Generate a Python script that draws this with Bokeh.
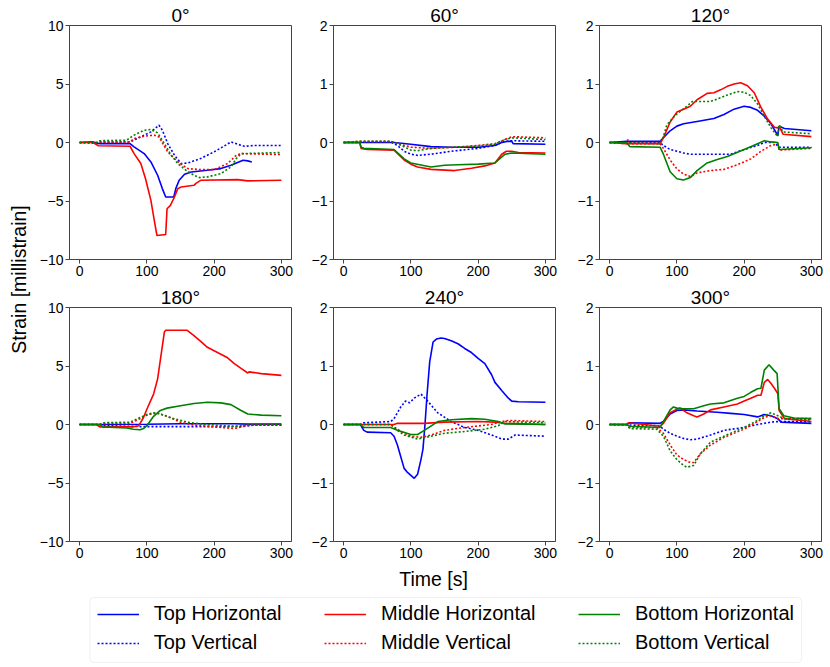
from bokeh.plotting import figure
from bokeh.layouts import row, column
from bokeh.models import (Range1d, FixedTicker, CustomJSTickFormatter, Label,
                          Legend, LegendItem, BoxAnnotation)
from bokeh.embed import file_html
from bokeh.resources import INLINE

FONT = "Liberation Sans"
NAN = float("nan")

# ---------------- series meta ----------------
SERIES_LABELS = ["Top Horizontal", "Top Vertical", "Middle Horizontal",
                 "Middle Vertical", "Bottom Horizontal", "Bottom Vertical"]
SERIES_COLORS = ["#0000ff", "#0000ff", "#ff0000", "#ff0000", "#008000", "#008000"]
SERIES_DASH = ["solid", "2 2", "solid", "2 2", "solid", "2 2"]

ANGLE_TITLES = ["0\u00b0", "60\u00b0", "120\u00b0", "180\u00b0", "240\u00b0", "300\u00b0"]
Y_LIMITS = [10, 2, 2, 10, 2, 2]
X_TICKS = [0, 100, 200, 300]
Y_TICKS_10 = [-10, -5, 0, 5, 10]
Y_TICKS_2 = [-2, -1, 0, 1, 2]

# ---------------- 0 deg ----------------
T0_TH = [0, 20, 30, 75, 81, 96, 106, 116, 123, 128, 140, 143, 148, 156, 166, 190, 210, 225, 243, 250, 256]
V0_TH = [0, 0.05, -0.1, -0.1, -0.37, -0.95, -1.66, -2.8, -3.94, -4.66, -4.66, -3.94, -3.23, -2.72, -2.52, -2.37, -2.23, -1.95, -1.52, -1.57, -1.66]
T0_TV = [0, 20, 30, 75, 91, 106, 118, 123, 131, 141, 151, 161, 180, 200, 213, 225, 235, 245, 260, 300]
V0_TV = [0, -0.05, 0.0, 0.05, 0.48, 0.91, 1.48, 1.05, -0.09, -1.09, -1.8, -1.75, -1.37, -0.8, -0.37, 0.05, -0.15, -0.32, -0.26, -0.26]
T0_MH = [0, 20, 28, 75, 81, 91, 98, 106, 111, 115, 128, 130, 135, 141, 146, 151, 170, 173, 180, 235, 250, 300]
V0_MH = [0, 0, -0.28, -0.32, -0.95, -1.8, -3.1, -4.95, -6.66, -7.95, -7.86, -5.66, -5.37, -4.66, -3.94, -3.8, -3.66, -3.5, -3.23, -3.17, -3.28, -3.23]
T0_MV = [0, 25, 30, 75, 81, 96, 111, 118, 125, 131, 141, 153, 161, 180, 200, 220, 233, 240, 300]
V0_MV = [0, 0, 0.05, 0.05, 0.34, 0.54, 0.63, 0.48, -0.23, -0.8, -1.37, -1.95, -2.23, -2.32, -2.32, -1.8, -1.09, -0.95, -1.03]
T0_BH = []
V0_BH = []
T0_BV = [0, 25, 30, 70, 81, 96, 106, 116, 126, 136, 146, 158, 170, 178, 190, 210, 225, 233, 240, 300]
V0_BV = [0, 0, 0.15, 0.2, 0.63, 1.05, 1.11, 0.82, -0.09, -1.09, -1.8, -2.37, -2.8, -3.0, -2.94, -2.66, -2.09, -1.37, -0.95, -0.86]

# ---------------- 60 deg ----------------
T60_TH = [0, 75, 100, 130, 160, 200, 225, 235, 245, 250, 252, 300]
V60_TH = [0, 0, -0.03, -0.07, -0.08, -0.08, -0.05, 0.0, 0.02, 0.02, -0.02, -0.03]
T60_TV = [0, 70, 80, 90, 100, 110, 130, 160, 200, 225, 240, 250, 300]
V60_TV = [0, 0.01, -0.05, -0.15, -0.2, -0.22, -0.2, -0.15, -0.1, -0.05, 0.02, 0.03, 0.02]
T60_MH = [0, 24, 26, 35, 75, 90, 100, 110, 130, 165, 190, 210, 225, 235, 242, 250, 260, 300]
V60_MH = [0, 0, -0.1, -0.12, -0.13, -0.3, -0.37, -0.42, -0.46, -0.48, -0.44, -0.4, -0.35, -0.2, -0.15, -0.15, -0.17, -0.18]
T60_MV = [0, 25, 70, 90, 100, 130, 170, 200, 225, 240, 250, 300]
V60_MV = [0, 0.02, 0.02, -0.05, -0.08, -0.1, -0.08, -0.05, -0.02, 0.05, 0.1, 0.08]
T60_BH = [0, 24, 26, 30, 75, 90, 100, 130, 150, 170, 200, 225, 240, 250, 300]
V60_BH = [0, 0, -0.08, -0.1, -0.12, -0.28, -0.35, -0.42, -0.39, -0.38, -0.37, -0.35, -0.2, -0.18, -0.2]
T60_BV = [0, 25, 70, 80, 100, 110, 130, 160, 200, 225, 240, 250, 300]
V60_BV = [0, 0.02, 0.02, -0.02, -0.13, -0.14, -0.1, -0.08, -0.06, -0.03, 0.05, 0.08, 0.05]

# ---------------- 120 deg ----------------
T120_TH = [0, 25, 75, 80, 90, 100, 110, 130, 155, 170, 185, 200, 210, 220, 230, 240, 250, 252, 260, 300]
V120_TH = [0, 0.02, 0.02, 0.08, 0.2, 0.28, 0.32, 0.36, 0.41, 0.48, 0.57, 0.62, 0.6, 0.55, 0.45, 0.32, 0.12, 0.28, 0.24, 0.2]
T120_TV = [0, 75, 80, 90, 100, 110, 120, 180, 200, 220, 230, 245, 252, 300]
V120_TV = [0, 0, -0.05, -0.12, -0.15, -0.18, -0.2, -0.2, -0.12, -0.05, 0.0, 0.0, -0.08, -0.08]
T120_MH = [0, 25, 75, 80, 90, 100, 110, 120, 130, 145, 155, 165, 175, 185, 195, 205, 215, 225, 235, 245, 250, 252, 258, 300]
V120_MH = [0, -0.02, -0.02, 0.08, 0.35, 0.52, 0.57, 0.62, 0.73, 0.84, 0.85, 0.9, 0.96, 1.0, 1.02, 0.97, 0.85, 0.6, 0.4, 0.26, 0.25, 0.28, 0.14, 0.1]
T120_MV = [0, 25, 27, 30, 75, 80, 90, 100, 110, 120, 130, 150, 170, 190, 210, 225, 240, 250, 252, 300]
V120_MV = [0, -0.02, 0.05, -0.02, -0.02, -0.1, -0.3, -0.45, -0.54, -0.58, -0.52, -0.48, -0.46, -0.38, -0.28, -0.15, -0.05, -0.03, -0.13, -0.1]
T120_BH = [0, 25, 30, 75, 80, 90, 100, 110, 120, 130, 145, 160, 175, 200, 220, 230, 240, 250, 252, 300]
V120_BH = [0, 0, -0.07, -0.08, -0.2, -0.5, -0.62, -0.64, -0.6, -0.48, -0.35, -0.29, -0.24, -0.12, -0.02, 0.03, 0.01, 0.0, -0.12, -0.09]
T120_BV = [0, 75, 80, 85, 98, 115, 123, 150, 175, 190, 200, 210, 220, 230, 240, 250, 252, 258, 300]
V120_BV = [0, -0.02, 0.1, 0.3, 0.47, 0.62, 0.7, 0.7, 0.81, 0.87, 0.86, 0.8, 0.66, 0.45, 0.25, 0.1, 0.3, 0.18, 0.15]

# ---------------- 180 deg ----------------
T180_TH = [0, 30, 100, 150, 230, 250, 300]
V180_TH = [0, 0, 0.02, 0.06, 0.06, 0.03, 0.03]
T180_TV = [0, 30, 40, 90, 240, 260, 300]
V180_TV = [0, 0, -0.1, -0.18, -0.18, -0.05, -0.05]
T180_MH = [0, 25, 30, 80, 88, 95, 100, 110, 116, 126, 128, 160, 170, 180, 190, 200, 210, 220, 230, 240, 250, 252, 270, 300]
V180_MH = [0, 0, -0.2, -0.2, -0.1, 0.6, 1.3, 2.6, 3.9, 7.9, 8.05, 8.05, 7.6, 7.1, 6.6, 6.3, 6.0, 5.7, 5.2, 4.8, 4.4, 4.5, 4.35, 4.2]
T180_MV = [0, 30, 40, 75, 90, 100, 115, 130, 150, 170, 200, 230, 240, 250, 300]
V180_MV = [0, 0, 0.1, 0.1, 0.5, 0.8, 1.0, 0.7, 0.2, -0.05, -0.2, -0.35, -0.2, -0.05, 0.0]
T180_BH = [0, 30, 35, 70, 80, 90, 95, 100, 105, 110, 120, 130, 150, 170, 190, 210, 225, 240, 250, 270, 300]
V180_BH = [0, 0, -0.2, -0.3, -0.4, -0.45, -0.35, -0.1, 0.3, 0.7, 1.2, 1.4, 1.6, 1.8, 1.9, 1.85, 1.7, 1.2, 0.9, 0.8, 0.75]
T180_BV = [0, 30, 35, 75, 90, 100, 110, 120, 140, 160, 180, 200, 230, 250, 300]
V180_BV = [0, 0, 0.15, 0.2, 0.6, 0.85, 1.0, 0.9, 0.5, 0.2, 0.05, -0.05, -0.15, -0.05, 0.0]

# ---------------- 240 deg ----------------
T240_TH = [0, 25, 30, 35, 70, 75, 80, 85, 90, 95, 100, 105, 110, 115, 118, 121, 124, 128, 133, 138, 145, 150, 160, 170, 180, 190, 200, 210, 220, 225, 235, 245, 250, 260, 300]
V240_TH = [0, 0, -0.1, -0.13, -0.14, -0.2, -0.35, -0.55, -0.75, -0.82, -0.87, -0.92, -0.85, -0.6, -0.42, 0.0, 0.5, 1.07, 1.41, 1.46, 1.48, 1.47, 1.43, 1.38, 1.3, 1.23, 1.13, 1.04, 0.85, 0.72, 0.58, 0.45, 0.4, 0.39, 0.38]
T240_TV = [0, 25, 30, 70, 75, 85, 92, 98, 105, 115, 125, 140, 160, 180, 200, 220, 235, 245, 255, 300]
V240_TV = [0, 0, 0.03, 0.05, 0.1, 0.3, 0.4, 0.37, 0.45, 0.52, 0.4, 0.2, 0.05, -0.05, -0.1, -0.18, -0.25, -0.25, -0.18, -0.2]
T240_MH = [0, 75, 80, 100, 120, 150, 200, 225, 240, 300]
V240_MH = [0, 0, 0.02, 0.02, 0.02, 0.04, 0.05, 0.04, 0.02, 0.0]
T240_MV = [0, 70, 80, 90, 100, 115, 130, 150, 180, 220, 235, 245, 300]
V240_MV = [0, 0, -0.08, -0.15, -0.2, -0.22, -0.18, -0.1, -0.05, 0.0, 0.05, 0.07, 0.05]
T240_BH = [0, 25, 30, 70, 80, 100, 110, 120, 140, 160, 190, 210, 230, 240, 300]
V240_BH = [0, 0, -0.05, -0.05, -0.1, -0.17, -0.17, -0.1, 0.05, 0.08, 0.1, 0.09, 0.05, 0.01, 0.0]
T240_BV = [0, 70, 80, 90, 110, 130, 150, 180, 210, 230, 240, 300]
V240_BV = [0, 0, -0.1, -0.18, -0.25, -0.2, -0.15, -0.12, -0.08, -0.02, 0.05, 0.03]

# ---------------- 300 deg ----------------
T300_TH = [0, 25, 30, 75, 80, 90, 100, 110, 130, 160, 180, 200, 220, 230, 240, 250, 255, 300]
V300_TH = [0, 0, 0.03, 0.02, 0.05, 0.18, 0.24, 0.25, 0.23, 0.21, 0.19, 0.17, 0.13, 0.17, 0.15, 0.1, 0.04, 0.02]
T300_TV = [0, 70, 75, 80, 90, 100, 110, 120, 130, 150, 170, 200, 220, 240, 250, 300]
V300_TV = [0, -0.02, -0.03, -0.08, -0.15, -0.2, -0.24, -0.26, -0.25, -0.18, -0.1, -0.05, 0.0, 0.04, 0.05, 0.05]
T300_MH = [0, 25, 28, 75, 80, 90, 100, 105, 115, 125, 130, 140, 150, 170, 190, 200, 210, 220, 225, 230, 235, 240, 245, 250, 252, 260, 300]
V300_MH = [0, 0, 0.03, -0.03, 0.02, 0.2, 0.26, 0.28, 0.2, 0.15, 0.13, 0.18, 0.25, 0.3, 0.35, 0.4, 0.45, 0.5, 0.5, 0.72, 0.77, 0.7, 0.62, 0.53, 0.24, 0.1, 0.05]
T300_MV = [0, 25, 30, 70, 80, 90, 100, 110, 120, 125, 135, 150, 170, 200, 220, 230, 240, 250, 300]
V300_MV = [0, 0, -0.05, -0.05, -0.15, -0.35, -0.52, -0.6, -0.65, -0.65, -0.5, -0.35, -0.22, -0.08, 0.05, 0.12, 0.15, 0.1, 0.1]
T300_BH = [0, 25, 30, 75, 80, 90, 95, 100, 110, 125, 140, 150, 170, 190, 200, 210, 220, 225, 230, 237, 244, 249, 252, 259, 274, 300]
V300_BH = [0, 0, -0.03, -0.05, 0.05, 0.25, 0.3, 0.28, 0.27, 0.27, 0.32, 0.35, 0.37, 0.45, 0.48, 0.55, 0.61, 0.62, 0.93, 1.02, 0.93, 0.87, 0.27, 0.15, 0.11, 0.1]
T300_BV = [0, 25, 30, 70, 80, 90, 100, 110, 115, 125, 135, 150, 170, 200, 220, 230, 240, 250, 260, 300]
V300_BV = [0, 0, -0.07, -0.08, -0.2, -0.45, -0.6, -0.7, -0.73, -0.7, -0.5, -0.3, -0.2, -0.05, 0.07, 0.15, 0.2, 0.15, 0.1, 0.08]

PANELS = [
    [(T0_TH, V0_TH), (T0_TV, V0_TV), (T0_MH, V0_MH), (T0_MV, V0_MV), (T0_BH, V0_BH), (T0_BV, V0_BV)],
    [(T60_TH, V60_TH), (T60_TV, V60_TV), (T60_MH, V60_MH), (T60_MV, V60_MV), (T60_BH, V60_BH), (T60_BV, V60_BV)],
    [(T120_TH, V120_TH), (T120_TV, V120_TV), (T120_MH, V120_MH), (T120_MV, V120_MV), (T120_BH, V120_BH), (T120_BV, V120_BV)],
    [(T180_TH, V180_TH), (T180_TV, V180_TV), (T180_MH, V180_MH), (T180_MV, V180_MV), (T180_BH, V180_BH), (T180_BV, V180_BV)],
    [(T240_TH, V240_TH), (T240_TV, V240_TV), (T240_MH, V240_MH), (T240_MV, V240_MV), (T240_BH, V240_BH), (T240_BV, V240_BV)],
    [(T300_TH, V300_TH), (T300_TV, V300_TV), (T300_MH, V300_MH), (T300_MV, V300_MV), (T300_BH, V300_BH), (T300_BV, V300_BV)],
]

# ---------------- layout constants (pixels) ----------------
FRAME_W = 222
FRAME_H = 234
YLAB_W = 32
COL_BORDERS = [(37, 3), (39, 4), (40, 8)]
ROW_BORDERS = [(25, 25), (22, 24)]
LEG_H = 102
SPINE = "#444444"
LINE_W = 1.6

minus_fmt = "return (tick < 0 ? '\\u2212' : '') + Math.abs(tick);"


def make_panel(idx):
    r_i, c_i = divmod(idx, 3)
    lim = Y_LIMITS[idx]
    bl, br = COL_BORDERS[c_i]
    bt, bb = ROW_BORDERS[r_i]
    p = figure(frame_width=FRAME_W, frame_height=FRAME_H,
               x_range=Range1d(-15, 315), y_range=Range1d(-lim, lim),
               min_border_left=bl, min_border_right=br,
               min_border_top=bt, min_border_bottom=bb,
               toolbar_location=None, output_backend="svg",
               title=ANGLE_TITLES[idx])
    p.title.align = "center"
    p.title.text_font = FONT
    p.title.text_font_size = "19px"
    p.title.text_font_style = "normal"
    p.title.text_color = "black"
    p.title.standoff = 0
    p.xgrid.visible = False
    p.ygrid.visible = False
    p.outline_line_color = SPINE
    p.outline_line_width = 1
    p.background_fill_color = "white"
    p.border_fill_color = "white"
    p.xaxis.ticker = FixedTicker(ticks=X_TICKS, minor_ticks=[])
    p.yaxis.ticker = FixedTicker(ticks=(Y_TICKS_10 if lim == 10 else Y_TICKS_2), minor_ticks=[])
    p.yaxis.formatter = CustomJSTickFormatter(code=minus_fmt)
    for ax in (p.xaxis[0], p.yaxis[0]):
        ax.axis_line_color = SPINE
        ax.major_tick_line_color = SPINE
        ax.minor_tick_line_color = None
        ax.major_tick_out = 4
        ax.major_tick_in = 0
        ax.major_label_standoff = 2
        ax.major_label_text_font = FONT
        ax.major_label_text_font_size = "14px"
        ax.major_label_text_color = "black"
    for k, (t, v) in enumerate(PANELS[idx]):
        if len(t) == 0:
            continue
        p.line(t, v, line_color=SERIES_COLORS[k], line_width=LINE_W,
               line_dash=SERIES_DASH[k])
    return p


panels = [make_panel(i) for i in range(6)]
grid_h = sum(a + FRAME_H + b for a, b in ROW_BORDERS)

# shared y-axis label: the axis label of an otherwise empty left axis
YLAB_BOTTOM = 6
ylab = figure(frame_width=1, frame_height=grid_h - YLAB_BOTTOM,
              x_range=Range1d(0, 1), y_range=Range1d(0, 1),
              x_axis_type=None, min_border_left=YLAB_W - 1, min_border_right=0,
              min_border_top=0, min_border_bottom=YLAB_BOTTOM,
              outline_line_color=None, toolbar_location=None,
              output_backend="svg", title=None)
ylab.xgrid.visible = False
ylab.ygrid.visible = False
ylab.yaxis.ticker = FixedTicker(ticks=[], minor_ticks=[])
ylab.yaxis.axis_line_color = None
ylab.yaxis.major_tick_line_color = None
ylab.yaxis.minor_tick_line_color = None
ylab.yaxis.major_tick_out = 0
ylab.yaxis.major_label_standoff = 0
ylab.yaxis.axis_label = "Strain [millistrain]"
ylab.yaxis.axis_label_standoff = 2
ylab.yaxis.axis_label_text_font = FONT
ylab.yaxis.axis_label_text_font_size = "19.5px"
ylab.yaxis.axis_label_text_font_style = "normal"
ylab.yaxis.axis_label_text_color = "black"

TOTAL_W = YLAB_W + sum(a + FRAME_W + b for a, b in COL_BORDERS)
leg = figure(frame_width=TOTAL_W, frame_height=LEG_H,
             x_range=Range1d(0, TOTAL_W), y_range=Range1d(0, LEG_H),
             x_axis_type=None, y_axis_type=None, min_border=0,
             outline_line_color=None, toolbar_location=None,
             output_backend="svg", title=None)
leg.add_layout(Label(x=433, y=LEG_H - 13, text="Time [s]", text_align="center",
                     text_baseline="alphabetic", text_font=FONT,
                     text_font_size="19.5px", text_color="black"))
leg.add_layout(BoxAnnotation(left=89.3, right=801, bottom=5, top=70,
                             fill_color="white", fill_alpha=1.0,
                             line_color="#cccccc", line_width=1,
                             border_radius=4, level="underlay"))
dummies = []
for k in range(6):
    dummies.append(leg.line([NAN, NAN], [NAN, NAN], line_color=SERIES_COLORS[k],
                            line_width=LINE_W, line_dash=SERIES_DASH[k]))

LEG_X = [96.7, 324, 578]
for c in range(3):
    items = [LegendItem(label=SERIES_LABELS[2 * c + j], renderers=[dummies[2 * c + j]])
             for j in range(2)]
    lg = Legend(items=items, location=(LEG_X[c], 13), orientation="vertical",
                border_line_color=None, background_fill_alpha=0, padding=0,
                margin=0, spacing=6, glyph_width=42, glyph_height=22,
                label_height=22, label_standoff=15,
                label_text_font=FONT, label_text_font_size="20px",
                label_text_color="black")
    leg.add_layout(lg)

layout = column(
    row(ylab, column(row(*panels[:3]), row(*panels[3:]))),
    leg,
)

with open("out.html", "w", encoding="utf-8") as f:
    f.write(file_html(layout, INLINE))
